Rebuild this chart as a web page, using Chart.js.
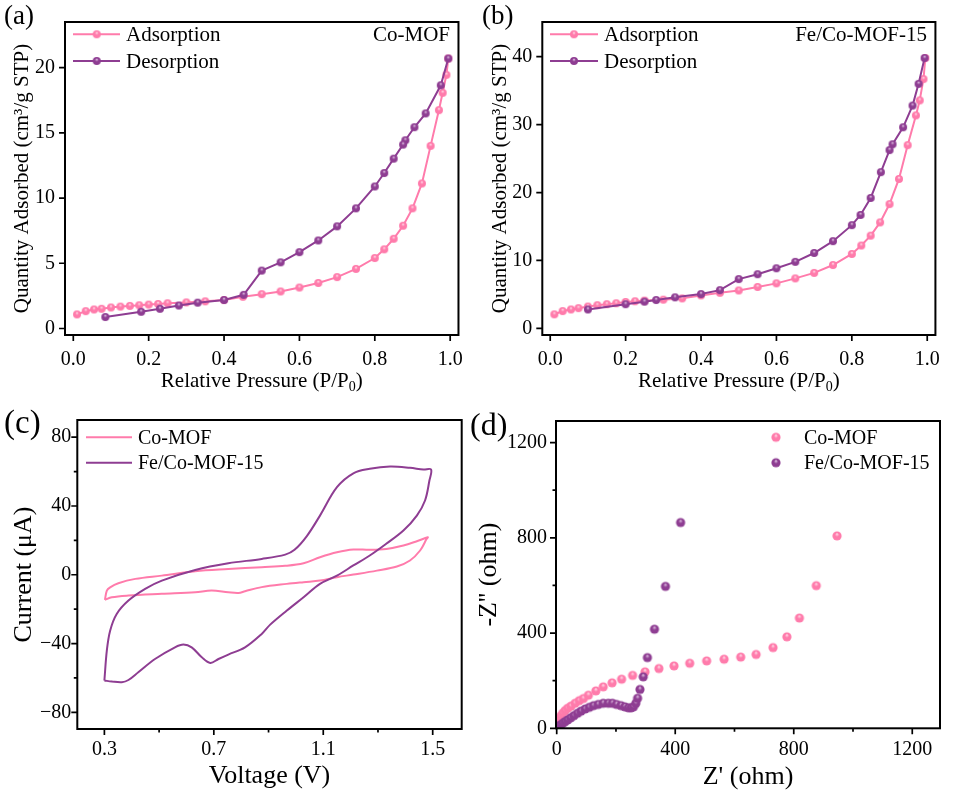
<!DOCTYPE html>
<html>
<head>
<meta charset="utf-8">
<script src="https://cdn.jsdelivr.net/npm/chart.js@4.4.1/dist/chart.umd.min.js"></script>
<style>
  body { margin: 0; background: #fff; }
  #wrap { position: relative; width: 953px; height: 799px; }
  #wrap canvas { position: absolute; }
</style>
</head>
<body>
<div id="wrap">
  <canvas id="chart-a" width="476" height="400" style="left:0;top:0"></canvas>
  <canvas id="chart-b" width="477" height="400" style="left:476px;top:0"></canvas>
  <canvas id="chart-c" width="470" height="399" style="left:0;top:400px"></canvas>
  <canvas id="chart-d" width="483" height="399" style="left:470px;top:400px"></canvas>
</div>
<script>
// (a) Co-MOF isotherm
const adsAX = [0.01, 0.033, 0.055, 0.075, 0.1, 0.125, 0.15, 0.175, 0.2, 0.225, 0.25, 0.3, 0.35, 0.4, 0.45, 0.5, 0.55, 0.6, 0.65, 0.7, 0.75, 0.8, 0.825, 0.85, 0.875, 0.9, 0.925, 0.948, 0.97, 0.98, 0.99, 0.995];
const adsAY = [1.08, 1.33, 1.46, 1.51, 1.61, 1.68, 1.73, 1.78, 1.83, 1.88, 1.93, 2.0, 2.08, 2.18, 2.43, 2.63, 2.84, 3.14, 3.49, 3.94, 4.57, 5.4, 6.07, 6.88, 7.88, 9.21, 11.12, 14.0, 16.74, 18.07, 19.45, 20.7];
const desAX = [0.995, 0.975, 0.935, 0.905, 0.881, 0.875, 0.85, 0.825, 0.8, 0.75, 0.7, 0.65, 0.6, 0.55, 0.5, 0.452, 0.4, 0.33, 0.28, 0.23, 0.18, 0.085];
const desAY = [20.7, 18.65, 16.49, 15.43, 14.43, 14.1, 13.02, 11.92, 10.89, 9.21, 7.83, 6.75, 5.85, 5.07, 4.44, 2.58, 2.18, 1.98, 1.76, 1.51, 1.28, 0.88];

// (b) Fe/Co-MOF-15 isotherm
const adsBX = [0.011, 0.033, 0.055, 0.075, 0.1, 0.125, 0.15, 0.175, 0.2, 0.225, 0.25, 0.3, 0.35, 0.4, 0.45, 0.5, 0.55, 0.6, 0.65, 0.7, 0.75, 0.8, 0.825, 0.85, 0.875, 0.9, 0.925, 0.948, 0.97, 0.98, 0.99, 0.995];
const adsBY = [2.07, 2.55, 2.79, 2.98, 3.22, 3.41, 3.56, 3.7, 3.89, 3.99, 4.09, 4.23, 4.42, 4.86, 5.24, 5.58, 6.1, 6.63, 7.36, 8.17, 9.33, 10.96, 12.2, 13.65, 15.6, 18.3, 22.0, 26.97, 31.35, 33.56, 36.7, 39.8];
const desBX = [0.993, 0.977, 0.961, 0.936, 0.908, 0.9, 0.877, 0.85, 0.823, 0.8, 0.75, 0.7, 0.65, 0.6, 0.55, 0.5, 0.45, 0.4, 0.331, 0.281, 0.25, 0.2, 0.1];
const desBY = [39.8, 36.0, 32.8, 29.6, 27.1, 26.25, 23.0, 19.2, 16.7, 15.2, 12.84, 11.1, 9.8, 8.85, 7.98, 7.26, 5.63, 5.05, 4.57, 4.18, 3.94, 3.56, 2.79];

// (c) CV loops
const cvCoV = [0.302, 0.309, 0.321, 0.351, 0.413, 0.51, 0.632, 0.753, 0.875, 0.961, 1.028, 1.088, 1.15, 1.21, 1.27, 1.33, 1.393, 1.442, 1.482, 1.478, 1.454, 1.417, 1.369, 1.296, 1.21, 1.15, 1.088, 1.028, 0.967, 0.875, 0.814, 0.79, 0.753, 0.692, 0.632, 0.51, 0.388, 0.327, 0.302];
const cvCoI = [-14.6, -9.2, -7.3, -4.9, -2.4, -0.5, 2.0, 3.3, 4.4, 5.2, 6.7, 10.2, 13.1, 14.7, 14.5, 15.0, 17.0, 19.5, 21.8, 20.9, 14.1, 8.3, 4.8, 2.4, 0.1, -1.4, -3.4, -4.3, -5.3, -7.2, -9.6, -10.6, -10.2, -9.2, -10.2, -11.1, -12.1, -13.1, -14.6];
const cvFeV = [0.3, 0.309, 0.321, 0.345, 0.388, 0.449, 0.51, 0.632, 0.753, 0.875, 0.961, 0.995, 1.04, 1.088, 1.15, 1.21, 1.27, 1.344, 1.417, 1.466, 1.494, 1.488, 1.472, 1.442, 1.393, 1.33, 1.27, 1.21, 1.15, 1.088, 1.028, 0.967, 0.906, 0.875, 0.814, 0.753, 0.717, 0.687, 0.656, 0.619, 0.589, 0.558, 0.485, 0.424, 0.388, 0.364, 0.327, 0.3];
const cvFeI = [-61.5, -44, -32.5, -22.8, -15, -8.2, -3.4, 2.8, 6.7, 9.2, 11.7, 14.5, 22.5, 34.4, 50.9, 59.0, 61.6, 62.9, 62.2, 61.2, 61.2, 54.8, 43.2, 34.4, 25.7, 18.0, 11.2, 5.4, -0.5, -5.3, -13.1, -20.8, -29, -34.4, -42.2, -46.4, -49, -51.3, -48, -42.2, -40.6, -42.2, -49, -56.7, -61.2, -62.5, -62.1, -61.5];

// (d) Nyquist
const nyCoRe = [0, 3.5, 8, 13.5, 20, 28, 37, 48, 62, 76, 90, 107, 132, 157, 187, 219, 256, 298, 345, 396, 449, 506, 565, 621, 673, 730, 777, 819, 876, 946];
const nyCoIm = [18, 28, 39, 51, 63, 74, 84, 93, 105, 116, 125, 139, 157, 174, 191, 206, 222, 237, 251, 262, 273, 283, 290, 299, 310, 339, 384, 463, 599, 808];
const nyFeRe = [0, 5.6, 13.5, 20, 28, 37, 47, 58, 70, 82, 96, 110, 124, 140, 157, 174, 188, 202, 217, 230, 242, 251, 259, 267, 273, 281, 292, 306, 330, 367, 418];
const nyFeIm = [4, 10, 14, 21, 28, 35, 44, 53, 63, 72, 81, 88, 95, 100, 105, 105, 105, 100, 95, 90, 86, 86, 90, 105, 126, 163, 216, 297, 416, 596, 864];

// tick labels
const isoTicksX = [0, 0.2, 0.4, 0.6, 0.8, 1.0];
const isoTicksYA = [0, 5, 10, 15, 20];
const isoTicksYB = [0, 10, 20, 30, 40];
const cvTicksX = [0.3, 0.7, 1.1, 1.5];
const cvMinorX = [0.5, 0.9, 1.3];
const cvTicksY = [-80, -40, 0, 40, 80];
const cvMinorY = [-60, -20, 20, 60];
const nyTicks = [0, 400, 800, 1200];
const nyMinor = [200, 600, 1000];

const PINK = "#ff7bab";
const PURPLE = "#8e3d92";
const FF = '"Liberation Serif", "Times New Roman", serif';

Chart.defaults.font.family = FF;
Chart.defaults.color = "#000";

const pts = (xs, ys) => xs.map((x, i) => ({ x: x, y: ys[i] }));

function ball(color, hi, r) {
  const c = document.createElement("canvas");
  const s = Math.ceil(r * 2 + 2);
  c.width = s;
  c.height = s;
  const g = c.getContext("2d");
  const m = s / 2;
  const grad = g.createRadialGradient(m, m - r * 0.45, 0, m, m, r);
  grad.addColorStop(0, hi);
  grad.addColorStop(0.45, color);
  grad.addColorStop(1, color);
  g.fillStyle = grad;
  g.beginPath();
  g.arc(m, m, r, 0, Math.PI * 2);
  g.fill();
  return c;
}

const pinkBall = ball(PINK, "#ffe4ee", 4);
const purpleBall = ball(PURPLE, "#e9cdeb", 4);
const pinkBallD = ball(PINK, "#ffe4ee", 4.6);
const purpleBallD = ball(PURPLE, "#e9cdeb", 4.6);

// frame, tick marks, titles, legends and panel letters
function decor(o) {
  return {
    id: "decor",
    afterDraw(chart) {
      const ctx = chart.ctx;
      const a = chart.chartArea;
      const xs = chart.scales.x;
      const ys = chart.scales.y;
      ctx.save();
      ctx.strokeStyle = "#000";
      ctx.lineWidth = 1.7;
      ctx.beginPath();
      o.xMajor.forEach((v) => { const p = xs.getPixelForValue(v); ctx.moveTo(p, a.bottom); ctx.lineTo(p, a.bottom + 6); });
      (o.xMinor || []).forEach((v) => { const p = xs.getPixelForValue(v); ctx.moveTo(p, a.bottom); ctx.lineTo(p, a.bottom + 3.5); });
      o.yMajor.forEach((v) => { const p = ys.getPixelForValue(v); ctx.moveTo(a.left, p); ctx.lineTo(a.left - 6, p); });
      (o.yMinor || []).forEach((v) => { const p = ys.getPixelForValue(v); ctx.moveTo(a.left, p); ctx.lineTo(a.left - 3.5, p); });
      ctx.stroke();
      ctx.lineWidth = 2;
      ctx.strokeRect(a.left, a.top, a.right - a.left, a.bottom - a.top);

      ctx.fillStyle = "#000";
      ctx.textBaseline = "alphabetic";
      // x title (optional subscript part)
      const t = o.xTitle;
      ctx.font = t.size + "px " + FF;
      const w1 = ctx.measureText(t.main).width;
      const w3 = t.tail ? ctx.measureText(t.tail).width : 0;
      ctx.font = Math.round(t.size * 0.66) + "px " + FF;
      const w2 = t.sub ? ctx.measureText(t.sub).width : 0;
      let x = (a.left + a.right) / 2 - (w1 + w2 + w3) / 2;
      ctx.textAlign = "left";
      ctx.font = t.size + "px " + FF;
      ctx.fillText(t.main, x, t.y);
      x += w1;
      if (t.sub) {
        ctx.font = Math.round(t.size * 0.66) + "px " + FF;
        ctx.fillText(t.sub, x, t.y + t.size * 0.2);
        x += w2;
        ctx.font = t.size + "px " + FF;
        ctx.fillText(t.tail, x, t.y);
      }
      // y title
      ctx.save();
      ctx.translate(o.yTitle.x, (a.top + a.bottom) / 2);
      ctx.rotate(-Math.PI / 2);
      ctx.textAlign = "center";
      ctx.font = o.yTitle.size + "px " + FF;
      ctx.fillText(o.yTitle.text, 0, 0);
      ctx.restore();

      // panel letter
      ctx.textAlign = "left";
      ctx.font = o.letter.size + "px " + FF;
      ctx.fillText(o.letter.text, o.letter.x, o.letter.y);

      // sample name top right
      if (o.sample) {
        ctx.textAlign = "right";
        ctx.textBaseline = "middle";
        ctx.font = "21px " + FF;
        ctx.fillText(o.sample.text, o.sample.x, o.sample.y);
      }

      // legend
      const lg = o.legend;
      ctx.textBaseline = "middle";
      ctx.textAlign = "left";
      ctx.font = lg.size + "px " + FF;
      lg.items.forEach((it) => {
        if (lg.line) {
          ctx.strokeStyle = it.color;
          ctx.lineWidth = 2;
          ctx.beginPath();
          ctx.moveTo(lg.x1, it.y);
          ctx.lineTo(lg.x2, it.y);
          ctx.stroke();
        }
        if (it.marker) {
          ctx.drawImage(it.marker, lg.mx - it.marker.width / 2, it.y - it.marker.height / 2);
        }
        ctx.fillStyle = "#000";
        ctx.fillText(it.text, lg.tx, it.y + 1);
      });
      ctx.restore();
    }
  };
}

function fixedTicks(list) {
  return (s) => { s.ticks = list.map((v) => ({ value: v })); };
}

function axis(min, max, list, fmt, pad, size, fitKey, fitVal) {
  return {
    type: "linear",
    min: min,
    max: max,
    grid: { display: false, drawTicks: false },
    border: { display: false },
    afterBuildTicks: fixedTicks(list),
    afterFit: (s) => { s[fitKey] = fitVal; },
    ticks: {
      autoSkip: false,
      maxRotation: 0,
      padding: pad,
      font: { size: size },
      callback: fmt
    }
  };
}

const fmtNum = (v) => (v < 0 ? "\u2212" + Math.abs(v) : String(v));
const fmt1 = (v) => v.toFixed(1);

function isoDataset(label, data, color, marker, order) {
  return {
    label: label,
    data: data,
    showLine: true,
    borderColor: color,
    backgroundColor: color,
    borderWidth: 2,
    pointStyle: marker,
    pointRadius: 4,
    tension: 0,
    order: order
  };
}

function baseOptions(pad, scales) {
  return {
    responsive: false,
    animation: false,
    layout: { padding: pad },
    plugins: { legend: { display: false }, tooltip: { enabled: false } },
    scales: scales
  };
}

// (a)
new Chart(document.getElementById("chart-a"), {
  type: "scatter",
  data: {
    datasets: [
      isoDataset("Adsorption", pts(adsAX, adsAY), PINK, pinkBall, 1),
      isoDataset("Desorption", pts(desAX, desAY), PURPLE, purpleBall, 0)
    ]
  },
  options: baseOptions({ left: 0, top: 16, right: 15, bottom: 0 }, {
    x: axis(-0.022, 1.022, isoTicksX, fmt1, 13, 20, "height", 65),
    y: axis(-0.5, 23.5, isoTicksYA, fmtNum, 10, 20, "width", 65)
  }),
  plugins: [decor({
    xMajor: isoTicksX, yMajor: isoTicksYA,
    xTitle: { main: "Relative Pressure (P/P", sub: "0", tail: ")", size: 21, y: 386.5 },
    yTitle: { text: "Quantity Adsorbed (cm\u00b3/g STP)", size: 21, x: 28 },
    letter: { text: "(a)", size: 27, x: 4, y: 23.5 },
    sample: { text: "Co-MOF", x: 450, y: 35 },
    legend: { line: true, size: 21, x1: 73, x2: 120, mx: 96.7, tx: 126,
      items: [
        { text: "Adsorption", color: PINK, marker: pinkBall, y: 34.3 },
        { text: "Desorption", color: PURPLE, marker: purpleBall, y: 61 }
      ] }
  })]
});

// (b)
new Chart(document.getElementById("chart-b"), {
  type: "scatter",
  data: {
    datasets: [
      isoDataset("Adsorption", pts(adsBX, adsBY), PINK, pinkBall, 1),
      isoDataset("Desorption", pts(desBX, desBY), PURPLE, purpleBall, 0)
    ]
  },
  options: baseOptions({ left: 0, top: 16, right: 12.7, bottom: 0 }, {
    x: axis(-0.021, 1.0217, isoTicksX, fmt1, 13, 20, "height", 65),
    y: axis(-0.97, 45.1, isoTicksYB, fmtNum, 10, 20, "width", 66.3)
  }),
  plugins: [decor({
    xMajor: isoTicksX, yMajor: isoTicksYB,
    xTitle: { main: "Relative Pressure (P/P", sub: "0", tail: ")", size: 21, y: 386.5 },
    yTitle: { text: "Quantity Adsorbed (cm\u00b3/g STP)", size: 21, x: 30 },
    letter: { text: "(b)", size: 27, x: 6, y: 23.5 },
    sample: { text: "Fe/Co-MOF-15", x: 451, y: 35 },
    legend: { line: true, size: 21, x1: 74, x2: 122, mx: 98, tx: 128,
      items: [
        { text: "Adsorption", color: PINK, marker: pinkBall, y: 34.3 },
        { text: "Desorption", color: PURPLE, marker: purpleBall, y: 61 }
      ] }
  })]
});

// (c)
function cvDataset(label, data, color, order) {
  return {
    label: label,
    data: data,
    showLine: true,
    borderColor: color,
    borderWidth: 2,
    pointRadius: 0,
    tension: 0.35,
    order: order
  };
}

new Chart(document.getElementById("chart-c"), {
  type: "scatter",
  data: {
    datasets: [
      cvDataset("Co-MOF", pts(cvCoV, cvCoI), PINK, 1),
      cvDataset("Fe/Co-MOF-15", pts(cvFeV, cvFeI), PURPLE, 0)
    ]
  },
  options: baseOptions({ left: 0, top: 20, right: 8.3, bottom: 0 }, {
    x: axis(0.201, 1.606, cvTicksX, fmt1, 9, 20, "height", 70),
    y: axis(-89.7, 90, cvTicksY, fmtNum, 6, 20, "width", 77.3)
  }),
  plugins: [decor({
    xMajor: cvTicksX, xMinor: cvMinorX, yMajor: cvTicksY, yMinor: cvMinorY,
    xTitle: { main: "Voltage (V)", size: 26, y: 383 },
    yTitle: { text: "Current (\u03bcA)", size: 26, x: 31 },
    letter: { text: "(c)", size: 33, x: 4, y: 33 },
    legend: { line: true, size: 20, x1: 86, x2: 132, tx: 138,
      items: [
        { text: "Co-MOF", color: PINK, y: 37.3 },
        { text: "Fe/Co-MOF-15", color: PURPLE, y: 62.7 }
      ] }
  })]
});

// (d)
function nyDataset(label, data, marker, order) {
  return {
    label: label,
    data: data,
    showLine: false,
    pointStyle: marker,
    pointRadius: 4.6,
    order: order
  };
}

new Chart(document.getElementById("chart-d"), {
  type: "scatter",
  data: {
    datasets: [
      nyDataset("Co-MOF", pts(nyCoRe, nyCoIm), pinkBallD, 1),
      nyDataset("Fe/Co-MOF-15", pts(nyFeRe, nyFeIm), purpleBallD, 0)
    ]
  },
  options: baseOptions({ left: 0, top: 20, right: 13, bottom: 0 }, {
    x: axis(-2.4, 1293.6, nyTicks, fmtNum, 9, 20, "height", 70.7),
    y: axis(0, 1290.5, nyTicks, fmtNum, 9, 20, "width", 86)
  }),
  plugins: [decor({
    xMajor: nyTicks, xMinor: nyMinor, yMajor: nyTicks, yMinor: nyMinor,
    xTitle: { main: "Z' (ohm)", size: 26, y: 384 },
    yTitle: { text: "-Z'' (ohm)", size: 26, x: 26 },
    letter: { text: "(d)", size: 32, x: 0, y: 34.5 },
    legend: { line: false, size: 20, mx: 306, tx: 334,
      items: [
        { text: "Co-MOF", color: PINK, marker: pinkBallD, y: 37.3 },
        { text: "Fe/Co-MOF-15", color: PURPLE, marker: purpleBallD, y: 62.7 }
      ] }
  })]
});
</script>
</body>
</html>
